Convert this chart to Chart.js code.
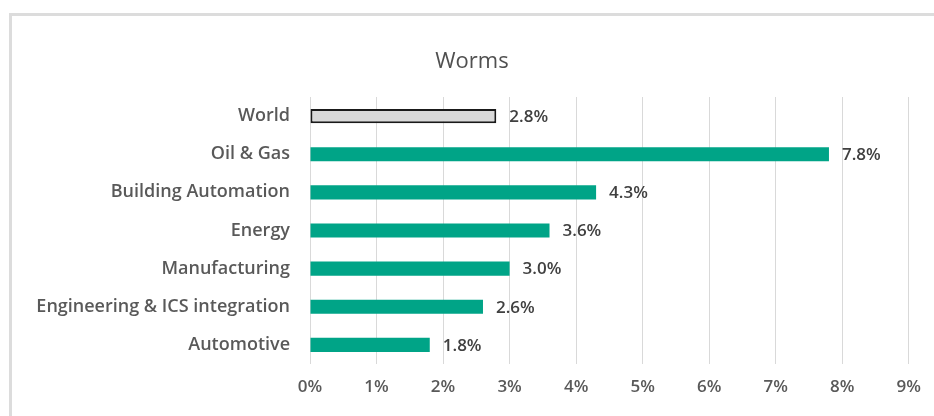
<!DOCTYPE html>
<html lang="en">
<head>
    <meta charset="UTF-8">
    <title>Worms</title>
    <script src="https://cdn.jsdelivr.net/npm/chart.js"></script>
    <style>
        html, body { margin: 0; padding: 0; background: #fff; }
        #frame {
            position: absolute; left: 9px; top: 13px; width: 940px; height: 420px;
            border-left: 3px solid #dcdcdc; border-top: 3px solid #dcdcdc;
        }
        #wrap { position: absolute; left: 0; top: 0; width: 934px; height: 416px; }
    </style>
</head>
<body>
    <div id="frame"></div>
    <div id="wrap"><canvas id="wormsChart"></canvas></div>

    <script>
        const categories = ['World', 'Oil & Gas', 'Building Automation', 'Energy', 'Manufacturing', 'Engineering & ICS integration', 'Automotive'];
        const values = [2.8, 7.8, 4.3, 3.6, 3.0, 2.6, 1.8];
        const xTicks = [0, 1, 2, 3, 4, 5, 6, 7, 8, 9];

        const fontFamily = '"Open Sans", sans-serif';

        // title over the frame, plus value labels at the end of each bar
        const decorations = {
            id: 'decorations',
            afterDatasetsDraw(chart) {
                const ctx = chart.ctx;
                const meta = chart.getDatasetMeta(0);
                ctx.save();
                ctx.font = '600 17px ' + fontFamily;
                ctx.fillStyle = '#404040';
                ctx.textAlign = 'left';
                ctx.textBaseline = 'middle';
                meta.data.forEach((bar, i) => {
                    ctx.fillText(values[i].toFixed(1) + '%', bar.x + 13, bar.y + 1);
                });

                ctx.font = '22px ' + fontFamily;
                ctx.fillStyle = '#505050';
                ctx.textAlign = 'center';
                ctx.fillText('Worms', 472, 62);
                ctx.restore();
            }
        };

        const ctx = document.getElementById('wormsChart').getContext('2d');
        new Chart(ctx, {
            type: 'bar',
            data: {
                labels: categories,
                datasets: [{
                    data: values,
                    backgroundColor: categories.map((c, i) => i === 0 ? '#d9d9d9' : '#00a487'),
                    borderColor: categories.map((c, i) => i === 0 ? '#1a1a1a' : '#00a487'),
                    borderWidth: categories.map((c, i) => i === 0 ? 2 : 0),
                    borderSkipped: false,
                    categoryPercentage: 1,
                    barPercentage: 0.37
                }]
            },
            options: {
                indexAxis: 'y',
                responsive: true,
                maintainAspectRatio: false,
                animation: false,
                layout: { padding: { top: 97, right: 24, bottom: 0, left: 0 } },
                plugins: {
                    legend: { display: false },
                    tooltip: { enabled: false },
                    title: { display: false }
                },
                scales: {
                    x: {
                        min: 0,
                        max: 9,
                        afterBuildTicks(scale) {
                            scale.ticks = xTicks.map(v => ({ value: v }));
                        },
                        afterFit(scale) { scale.height = 52; },
                        grid: { color: '#d9d9d9', drawTicks: false },
                        border: { display: false },
                        ticks: {
                            padding: 13,
                            color: '#595959',
                            font: { family: fontFamily, size: 17, weight: '600' },
                            callback: v => v + '%'
                        }
                    },
                    y: {
                        afterFit(scale) { scale.width = 310; },
                        grid: { display: false, drawTicks: false },
                        border: { display: false },
                        ticks: {
                            padding: 20,
                            color: '#595959',
                            font: { family: fontFamily, size: 18, weight: '600' }
                        }
                    }
                }
            },
            plugins: [decorations]
        });
    </script>
</body>
</html>
